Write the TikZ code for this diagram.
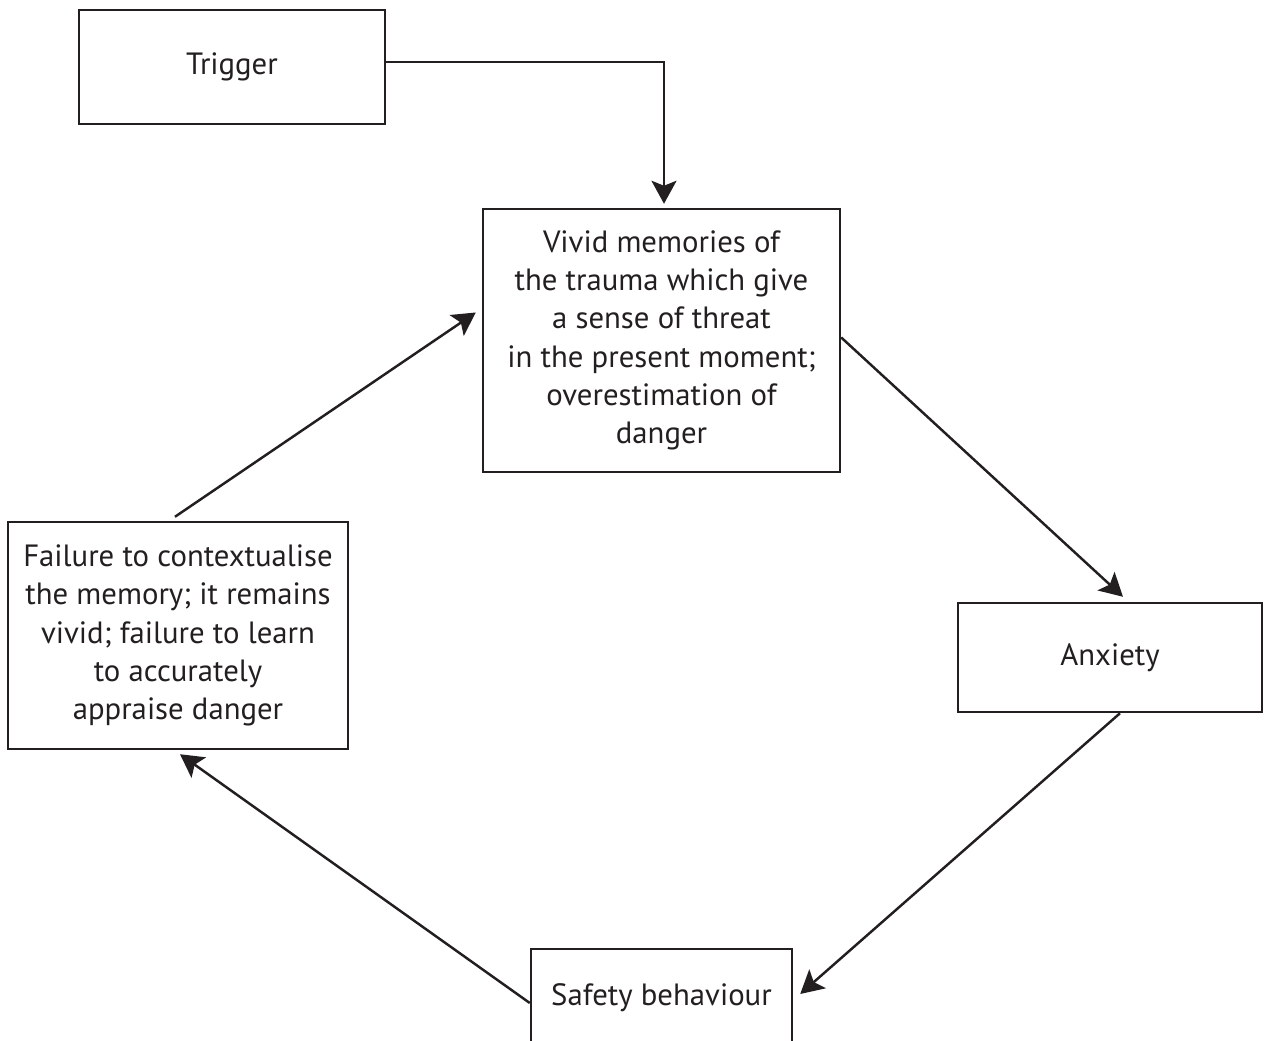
\documentclass[tikz,border=0pt]{standalone}
\usepackage{fontspec}
\setmainfont{PT Sans}
\usetikzlibrary{arrows.meta}
\definecolor{ink}{HTML}{231F20}
\begin{document}
\begin{tikzpicture}[>={Stealth[length=4.6mm,width=5mm,inset=1mm]}, line width=1.4pt, color=ink,
		font=\fontsize{17.5}{21.8}\selectfont, line join=miter,
		box/.style={draw, rectangle, inner sep=0pt, align=center, text=ink}]
			\useasboundingbox (0,0) rectangle (25.28,-20.82);
			\node[box, minimum width=6.12cm, minimum height=2.28cm] (trigger) at (4.64,-1.34) {Trigger};
			\node[box, minimum width=7.14cm, minimum height=5.26cm] (vivid) at (13.23,-6.81)
				{Vivid memories of\\the trauma which give\\a sense of threat\\in the present moment;\\overestimation of\\danger};
			\node[box, minimum width=6.08cm, minimum height=2.18cm] (anxiety) at (22.2,-13.15) {Anxiety};
			\node[box, minimum width=5.22cm, minimum height=1.96cm] (safety) at (13.23,-19.96) {Safety behaviour};
			\node[box, minimum width=6.8cm, minimum height=4.54cm] (failure) at (3.56,-12.71)
				{Failure to contextualise\\the memory; it remains\\vivid; failure to learn\\to accurately\\appraise danger};
			% cycle
			\draw[->] ([yshift=0.1cm]trigger.east) -| ([xshift=0.05cm,yshift=0.08cm]vivid.north);
			\draw[->] ([yshift=0.06cm]vivid.east) -- ([xshift=0.26cm,yshift=0.1cm]anxiety.north);
			\draw[->] ([xshift=0.2cm]anxiety.south) -- ([xshift=0.14cm,yshift=0.08cm]safety.east);
			\draw[->] ([yshift=-0.1cm]safety.west) -- ([xshift=0.04cm,yshift=-0.08cm]failure.south);
			\draw[->] ([xshift=-0.06cm,yshift=0.08cm]failure.north) -- ([xshift=-0.12cm,yshift=0.56cm]vivid.west);
		\end{tikzpicture}
\end{document}
